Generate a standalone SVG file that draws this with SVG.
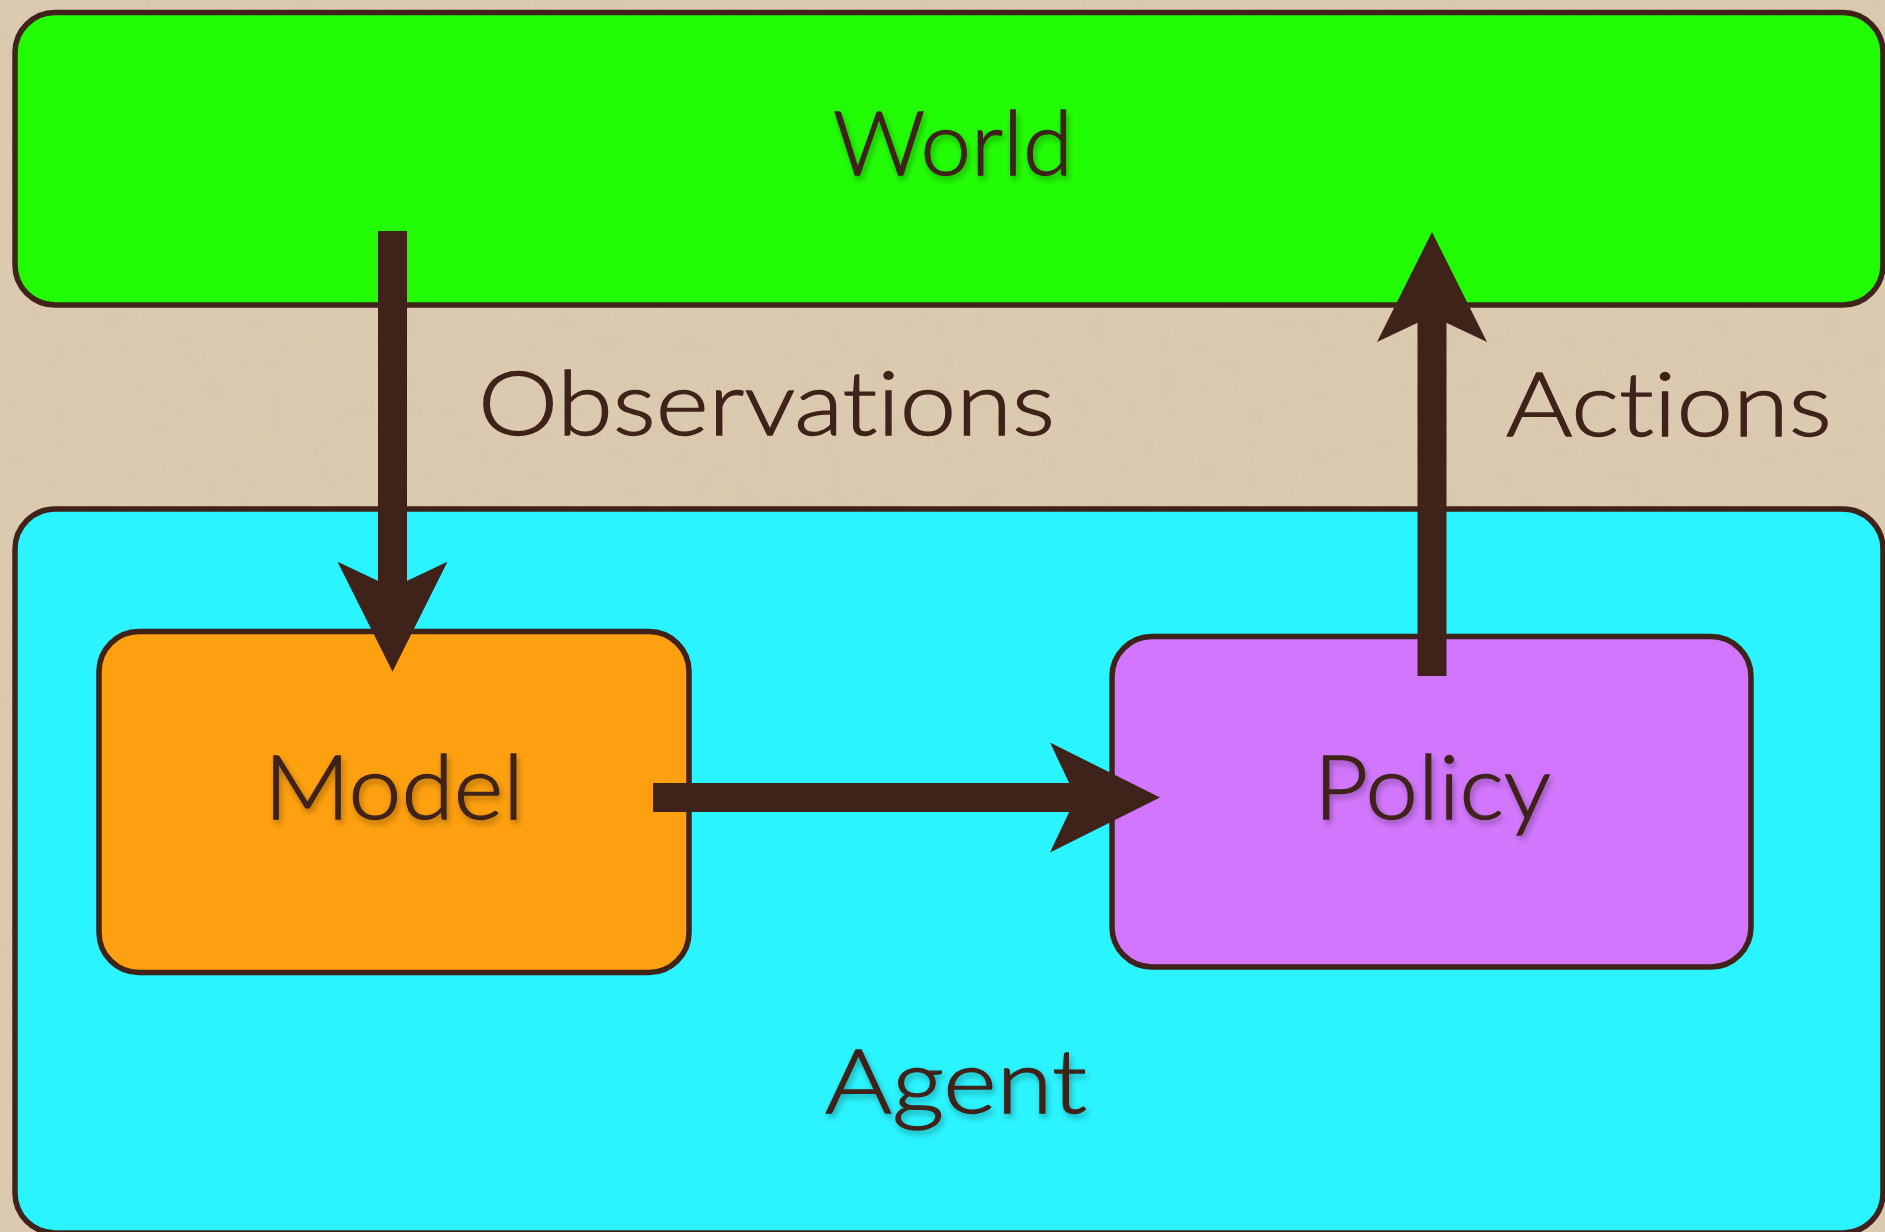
<svg xmlns="http://www.w3.org/2000/svg" width="1885" height="1232" viewBox="0 0 1885 1232">
  <defs>
    <style>
      .box { stroke: #3f231a; stroke-width: 5.5; }
      .lbl { font-family: "Lato", "Noto Sans", "Liberation Sans", sans-serif; font-weight: 300; font-size: 88px; fill: #3f231a; stroke: #3f231a; stroke-width: 1.3; font-variant-ligatures: none; }
      .link { stroke: #3f231a; stroke-width: 29; fill: none; }
    </style>
    <!-- paper grain for the parchment backdrop -->
    <filter id="grain" x="0" y="0" width="100%" height="100%">
      <feTurbulence type="fractalNoise" baseFrequency="0.045" numOctaves="4" seed="7" result="n"/>
      <feColorMatrix in="n" type="matrix" values="0 0 0 0 0.55  0 0 0 0 0.45  0 0 0 0 0.3  0 0 0 0.9 -0.25"/>
    </filter>
    <!-- soft drop shadow under box titles -->
    <filter id="shade" x="-10%" y="-20%" width="120%" height="150%">
      <feGaussianBlur in="SourceAlpha" stdDeviation="3"/>
      <feOffset dx="2" dy="4" result="b"/>
      <feComponentTransfer in="b" result="s"><feFuncA type="linear" slope="0.3"/></feComponentTransfer>
      <feMerge><feMergeNode in="s"/><feMergeNode in="SourceGraphic"/></feMerge>
    </filter>
    <!-- barbed arrowhead; tip sits 40 units past the line end -->
    <marker id="head" markerUnits="userSpaceOnUse" viewBox="0 -55 110 110" markerWidth="110" markerHeight="110" refX="70" refY="0" orient="auto">
      <path d="M0,-55 L110,0 L0,55 L26,0 Z" fill="#3f231a"/>
    </marker>
  </defs>

  <rect width="1885" height="1232" fill="#dccbb0"/>
  <rect width="1885" height="1232" filter="url(#grain)" opacity="0.3"/>

  <g id="world">
    <rect class="box" x="15" y="12.5" width="1868" height="292.5" rx="40" fill="#22fd06"/>
    <text class="lbl" x="833" y="175" textLength="240" lengthAdjust="spacingAndGlyphs" filter="url(#shade)">World</text>
  </g>

  <g id="agent">
    <rect class="box" x="15" y="509" width="1868" height="724" rx="40" fill="#2af4ff"/>
    <text class="lbl" x="825" y="1113" textLength="262" lengthAdjust="spacingAndGlyphs" filter="url(#shade)">Agent</text>
  </g>

  <g id="model">
    <rect class="box" x="99" y="631.5" width="590" height="341" rx="40" fill="#fea00f"/>
    <text class="lbl" x="264" y="819" textLength="260" lengthAdjust="spacingAndGlyphs" filter="url(#shade)">Model</text>
  </g>

  <g id="policy">
    <rect class="box" x="1112" y="636.5" width="639" height="330.5" rx="40" fill="#d277fd"/>
    <text class="lbl" x="1314" y="819" textLength="237" lengthAdjust="spacingAndGlyphs" filter="url(#shade)">Policy</text>
  </g>

  <g id="connectors">
    <line class="link" x1="392.5" y1="231" x2="392.5" y2="631.7" marker-end="url(#head)"/>
    <line class="link" x1="653" y1="797.5" x2="1120" y2="797.5" marker-end="url(#head)"/>
    <line class="link" x1="1432" y1="676" x2="1432" y2="272" marker-end="url(#head)"/>
    <text class="lbl" x="478" y="435" textLength="577" lengthAdjust="spacingAndGlyphs">Observations</text>
    <text class="lbl" x="1506" y="436" textLength="326" lengthAdjust="spacingAndGlyphs">Actions</text>
  </g>
</svg>
